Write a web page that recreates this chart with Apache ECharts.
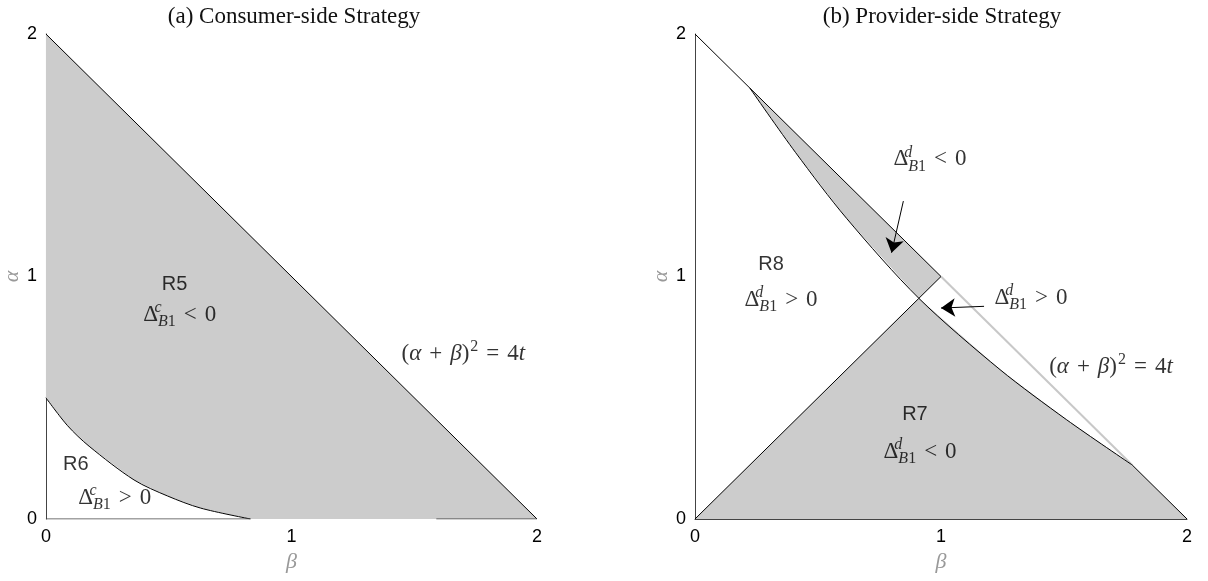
<!DOCTYPE html>
<html>
<head>
<meta charset="utf-8">
<script src="https://cdn.jsdelivr.net/npm/echarts@6/dist/echarts.min.js"></script>
<style>
  html, body { margin: 0; padding: 0; background: #fff; }
  #chart { width: 1208px; height: 581px; }
</style>
</head>
<body>
<div id="chart"></div>
<script>
// tick values on both axes
const ticks = [0, 1, 2];

// (a) consumer side
const aOuter = [[0, 2], [2, 0]];
const aCurve = [[0, 0.5], [0.088, 0.385], [0.176, 0.3], [0.359, 0.161], [0.495, 0.095], [0.63, 0.045], [0.833, 0]];
const aBaseLeft = [[0, 0], [0.833, 0]];
const aBaseRight = [[1.59, 0], [2, 0]];

// (b) provider side
const bOuterTop = [[0, 2], [1, 1]];
const bOuterGray = [[1, 1], [1.777, 0.223]];
const bOuterEnd = [[1.777, 0.223], [2, 0]];
const bCurve = [[0.223, 1.777], [0.409, 1.511], [0.616, 1.24], [0.91, 0.91],
                [1.24, 0.616], [1.511, 0.409], [1.777, 0.223]];
const bDiag = [[0, 0], [0.91, 0.91], [1, 1]];
const bArrows = [[[0.847, 1.311], [0.799, 1.098]], [[1.175, 0.877], [1.0, 0.870]]];

// filled regions
const aFill = [[0, 2], [2, 0]].concat(aCurve.slice().reverse());
const bStrip = [[0.223, 1.777], [1, 1], [0.91, 0.91]].concat(bCurve.slice(0, 3).reverse());
const bLower = [[0, 0]].concat(bCurve.slice(3), [[2, 0]]);

const delta = (s, rel) => '{d|Δ}{sup|' + s + '}{sub|B}{subn|1}{rel|' + rel + '}{d|0}';
const eqText = '{d|(}{i|α}{rel|+}{i|β}{d|)}{pow|2}{rel|=}{d|4}{i|t}';

const annotations = [
  { panel: 0, pos: [0.524, 0.967], text: '{r|R5}' },
  { panel: 0, pos: [0.545, 0.843], text: delta('c', '<') },
  { panel: 0, pos: [0.122, 0.223], text: '{r|R6}' },
  { panel: 0, pos: [0.28, 0.087], text: delta('c', '>') },
  { panel: 0, pos: [1.70, 0.682], text: eqText },
  { panel: 1, pos: [0.309, 1.05], text: '{r|R8}' },
  { panel: 1, pos: [0.35, 0.905], text: delta('d', '>') },
  { panel: 1, pos: [0.894, 0.43], text: '{r|R7}' },
  { panel: 1, pos: [0.915, 0.277], text: delta('d', '<') },
  { panel: 1, pos: [0.955, 1.483], text: delta('d', '<') },
  { panel: 1, pos: [1.366, 0.913], text: delta('d', '>') },
  { panel: 1, pos: [1.691, 0.628], text: eqText }
];

const serif = '"Liberation Serif", "DejaVu Serif", serif';
const sans = '"Liberation Sans", Arial, sans-serif';
const rich = {
  r: { fontFamily: sans, fontSize: 20, color: '#000' },
  d: { fontFamily: serif, fontSize: 23, lineHeight: 30, color: '#000' },
  i: { fontFamily: serif, fontSize: 23, lineHeight: 30, fontStyle: 'italic', color: '#000' },
  rel: { fontFamily: serif, fontSize: 23, lineHeight: 30, color: '#000', padding: [0, 8, 0, 8] },
  sup: { fontFamily: serif, fontSize: 16, lineHeight: 15, fontStyle: 'italic', verticalAlign: 'top', width: 0, color: '#000' },
  pow: { fontFamily: serif, fontSize: 16, lineHeight: 15, verticalAlign: 'top', color: '#000', padding: [0, 0, 0, 1] },
  sub: { fontFamily: serif, fontSize: 16, lineHeight: 15, fontStyle: 'italic', verticalAlign: 'bottom', color: '#000' },
  subn: { fontFamily: serif, fontSize: 16, lineHeight: 15, verticalAlign: 'bottom', color: '#000' }
};

function fill(idx, pts) {
  return {
    type: 'custom', xAxisIndex: idx, yAxisIndex: idx, silent: true, z: 1,
    data: [[0, 0]],
    renderItem: (params, api) => ({
      type: 'polygon',
      shape: { points: pts.map(p => api.coord(p)) },
      style: { fill: '#cccccc', stroke: null }
    })
  };
}

function line(idx, pts, color, width, smooth) {
  return {
    type: 'line', xAxisIndex: idx, yAxisIndex: idx, data: pts, silent: true, z: 3,
    showSymbol: false, symbol: 'none', smooth: smooth || false,
    lineStyle: { color: color || '#000', width: width || 1 }
  };
}

function axes(idx) {
  const left = idx === 0 ? 45 : 695;
  return {
    grid: { left: left, top: 34, width: 492, height: 485 },
    x: {
      type: 'value', gridIndex: idx, min: 0, max: 2, interval: 1,
      name: 'β', nameLocation: 'middle', nameGap: 30,
      nameTextStyle: { fontFamily: serif, fontStyle: 'italic', fontSize: 22, color: '#999' },
      axisLine: { show: idx === 1, lineStyle: { color: '#444', width: 1 } },
      axisTick: { show: false }, splitLine: { show: false },
      axisLabel: { fontFamily: sans, fontSize: 18, color: '#000', margin: 9 }
    },
    y: {
      type: 'value', gridIndex: idx, min: 0, max: 2, interval: 1,
      name: 'α', nameLocation: 'middle', nameGap: 20, nameRotate: 90,
      nameTextStyle: { fontFamily: serif, fontStyle: 'italic', fontSize: 22, color: '#999' },
      axisLine: { show: true, lineStyle: { color: '#444', width: 1 } },
      axisTick: { show: false }, splitLine: { show: false },
      axisLabel: { fontFamily: sans, fontSize: 18, color: '#000', margin: 9 }
    }
  };
}

const A = axes(0), B = axes(1);
const chart = echarts.init(document.getElementById('chart'), null, { renderer: 'canvas' });

chart.setOption({
  animation: false,
  backgroundColor: '#fff',
  title: [
    { text: '(a) Consumer-side Strategy', left: 289, top: 0, textAlign: 'center',
      textStyle: { fontFamily: serif, fontSize: 23, fontWeight: 'normal', color: '#111' } },
    { text: '(b) Provider-side Strategy', left: 937, top: 0, textAlign: 'center',
      textStyle: { fontFamily: serif, fontSize: 23, fontWeight: 'normal', color: '#111' } }
  ],
  grid: [A.grid, B.grid],
  xAxis: [A.x, B.x],
  yAxis: [A.y, B.y],
  series: [
    fill(0, aFill),
    fill(1, bStrip),
    fill(1, bLower),
    line(0, aOuter),
    line(0, aCurve, '#000', 1, 0.3),
    line(0, aBaseLeft, '#444'),
    line(0, aBaseRight, '#444'),
    line(1, bOuterTop),
    line(1, bOuterGray, '#c8c8c8', 2),
    line(1, bOuterEnd),
    line(1, bCurve, '#000', 1, 0.3),
    line(1, bDiag),
    {
      type: 'lines', coordinateSystem: 'cartesian2d', xAxisIndex: 1, yAxisIndex: 1, silent: true, z: 4,
      symbol: ['none', 'arrow'], symbolSize: 14,
      lineStyle: { color: '#000', width: 1, opacity: 1 },
      itemStyle: { color: '#000' },
      data: bArrows.map(a => ({ coords: a }))
    },
    ...[0, 1].map(idx => ({
      type: 'scatter', xAxisIndex: idx, yAxisIndex: idx, silent: true, z: 5,
      symbolSize: 0,
      data: annotations.filter(t => t.panel === idx).map(t => ({
        value: t.pos,
        label: { show: true, position: 'inside', formatter: t.text, rich: rich }
      }))
    }))
  ]
});
</script>
</body>
</html>
